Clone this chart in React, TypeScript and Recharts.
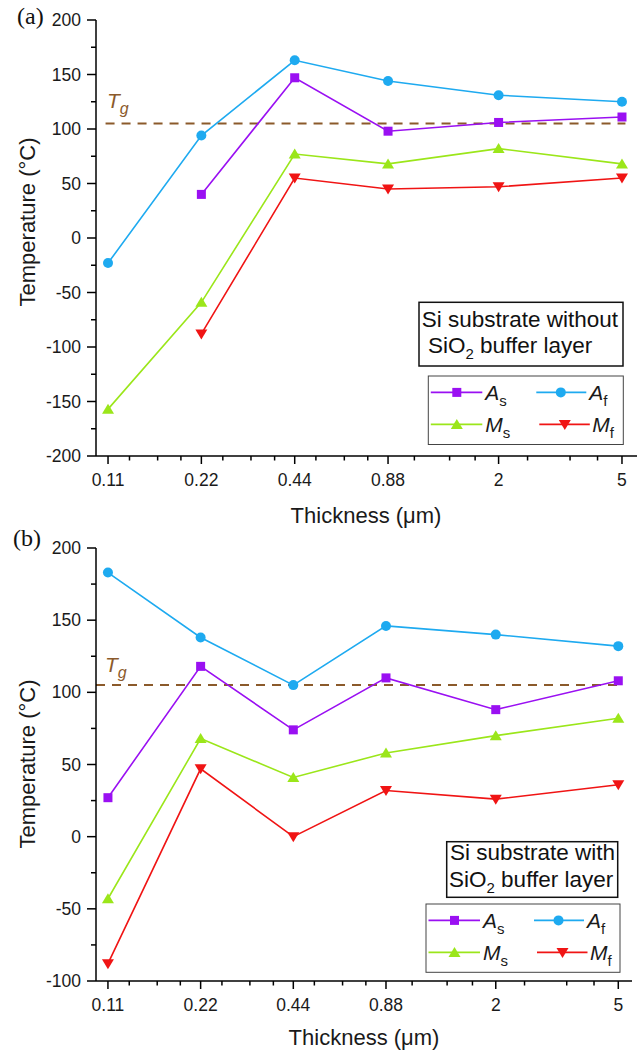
import React from 'react';
import { LineChart, Line, XAxis, YAxis, ReferenceLine } from 'recharts';

// thickness (um), log axis
const thickness = [0.11, 0.22, 0.44, 0.88, 2, 5];
const xMinorTicks = [
  0.129, 0.159, 0.189, 0.258, 0.318, 0.379, 0.515, 0.636, 0.757,
  1.07, 1.39, 1.68, 2.48, 3.4, 4.17,
];
const yTicksA = [-200, -175, -150, -125, -100, -75, -50, -25, 0, 25, 50, 75, 100, 125, 150, 175, 200];
const yTicksB = [-100, -75, -50, -25, 0, 25, 50, 75, 100, 125, 150, 175, 200];
const tg = 105;

// (a) Si substrate without SiO2 buffer layer
const asA = [null, 40, 147, 98, 106, 111];
const afA = [-23, 94, 163, 144, 131, 125];
const msA = [-157, -59, 77, 68, 82, 68];
const mfA = [null, -88, 55, 45, 47, 55];

// (b) Si substrate with SiO2 buffer layer
const asB = [27, 118, 74, 110, 88, 108];
const afB = [183, 138, 105, 146, 140, 132];
const msB = [-43, 68, 41, 58, 70, 82];
const mfB = [-88, 47, 0, 32, 26, 36];

const rowsA = thickness.map((t, i) => ({ t, as: asA[i], af: afA[i], ms: msA[i], mf: mfA[i] }));
const rowsB = thickness.map((t, i) => ({ t, as: asB[i], af: afB[i], ms: msB[i], mf: mfB[i] }));

const COLORS = { as: '#9a10f2', af: '#1eaaf0', ms: '#9be61a', mf: '#f01414' };
const TG_COLOR = '#8b5a2b';
const SANS = '"Liberation Sans", Arial, sans-serif';
const SERIF = '"Liberation Serif", "Times New Roman", serif';

function Marker({ shape, cx, cy, color }: any) {
  if (shape === 'square') return <rect x={cx - 4.5} y={cy - 4.5} width={9} height={9} fill={color} />;
  if (shape === 'circle') return <circle cx={cx} cy={cy} r={5} fill={color} />;
  if (shape === 'up')
    return <polygon points={`${cx},${cy - 5.5} ${cx - 6},${cy + 4.5} ${cx + 6},${cy + 4.5}`} fill={color} />;
  return <polygon points={`${cx},${cy + 5.5} ${cx - 6},${cy - 4.5} ${cx + 6},${cy - 4.5}`} fill={color} />;
}

function makeDot(shape: string, color: string) {
  return (props: any) => {
    const { cx, cy, value, index } = props;
    if (value == null || cx == null || cy == null) return <g key={`n${index}`} />;
    return (
      <g key={`d${index}`}>
        <Marker shape={shape} cx={cx} cy={cy} color={color} />
      </g>
    );
  };
}

function XTick({ x, y, payload }: any) {
  const major = thickness.includes(payload.value);
  return (
    <g>
      <line x1={x} x2={x} y1={y} y2={y + (major ? 8 : 4.5)} stroke="#000" strokeWidth={1.5} />
      {major && (
        <text x={x} y={y + 30} textAnchor="middle" fontSize={17.5} fontFamily={SANS} fill="#1a1a1a">
          {payload.value}
        </text>
      )}
    </g>
  );
}

function YTick({ x, y, payload }: any) {
  const major = payload.value % 50 === 0;
  return (
    <g>
      <line x1={x - (major ? 9 : 5)} x2={x} y1={y} y2={y} stroke="#000" strokeWidth={1.5} />
      {major && (
        <text x={x - 15} y={y + 6} textAnchor="end" fontSize={17.5} fontFamily={SANS} fill="#1a1a1a">
          {payload.value}
        </text>
      )}
    </g>
  );
}

function Panel({ data, yDomain, yTicks, xMax, height, margin, xHeight, tgFrom }: any) {
  return (
    <LineChart width={638} height={height} data={data} margin={margin}>
      <XAxis
        dataKey="t"
        type="number"
        scale="log"
        domain={[0.1006, xMax]}
        allowDataOverflow
        ticks={[...thickness, ...xMinorTicks]}
        interval={0}
        height={xHeight}
        tickSize={0}
        tickMargin={0}
        tickLine={false}
        tick={<XTick />}
        axisLine={{ stroke: '#000', strokeWidth: 1.5 }}
      />
      <YAxis
        type="number"
        domain={yDomain}
        ticks={yTicks}
        interval={0}
        width={96}
        tickSize={0}
        tickMargin={0}
        tickLine={false}
        tick={<YTick />}
        axisLine={{ stroke: '#000', strokeWidth: 1.5 }}
      />
      <ReferenceLine
        segment={[{ x: tgFrom, y: tg }, { x: 5.13, y: tg }]}
        stroke={TG_COLOR}
        strokeWidth={2}
        strokeDasharray="9 7"
      />
      <Line dataKey="af" stroke={COLORS.af} strokeWidth={1.6} dot={makeDot('circle', COLORS.af)} isAnimationActive={false} />
      <Line dataKey="as" stroke={COLORS.as} strokeWidth={1.6} dot={makeDot('square', COLORS.as)} isAnimationActive={false} />
      <Line dataKey="ms" stroke={COLORS.ms} strokeWidth={1.6} dot={makeDot('up', COLORS.ms)} isAnimationActive={false} />
      <Line dataKey="mf" stroke={COLORS.mf} strokeWidth={1.6} dot={makeDot('down', COLORS.mf)} isAnimationActive={false} />
    </LineChart>
  );
}

const legendItems = [
  { key: 'as', shape: 'square', letter: 'A', sub: 's', l1: 2.5, l2: 54, m: 28.5, tx: 57, row: 0 },
  { key: 'af', shape: 'circle', letter: 'A', sub: 'f', l1: 108, l2: 158, m: 132.5, tx: 161, row: 0 },
  { key: 'ms', shape: 'up', letter: 'M', sub: 's', l1: 2.5, l2: 54, m: 28.5, tx: 57, row: 1 },
  { key: 'mf', shape: 'down', letter: 'M', sub: 'f', l1: 111, l2: 161.5, m: 136.5, tx: 164, row: 1 },
];

function LegendBox({ x, y, w, h }: any) {
  return (
    <g>
      <rect x={x} y={y} width={w} height={h} fill="#fff" stroke="#444" strokeWidth={1} />
      {legendItems.map((it) => {
        const ry = y + 16.4 + it.row * 32;
        const color = (COLORS as any)[it.key];
        return (
          <g key={it.key}>
            <line x1={x + it.l1} x2={x + it.l2} y1={ry} y2={ry} stroke={color} strokeWidth={1.6} />
            <Marker shape={it.shape} cx={x + it.m} cy={ry} color={color} />
            <text x={x + it.tx} y={ry + 7.5} fontFamily={SANS} fontSize={21} fill="#1a1a1a">
              <tspan fontStyle="italic">{it.letter}</tspan>
              <tspan fontSize={15} dy={6}>{it.sub}</tspan>
            </text>
          </g>
        );
      })}
    </g>
  );
}

function NoteBox({ x, y, w, h, line1, x1, b1, x2, b2 }: any) {
  return (
    <g fontFamily={SANS} fontSize={22.5} fill="#111">
      <rect x={x} y={y} width={w} height={h} fill="#fff" stroke="#111" strokeWidth={1.5} />
      <text x={x1} y={b1}>{line1}</text>
      <text x={x2} y={b2}>
        SiO<tspan fontSize={15} dy={6}>2</tspan>
        <tspan dy={-6}> buffer layer</tspan>
      </text>
    </g>
  );
}

function TgLabel({ x, y }: any) {
  return (
    <text x={x} y={y} fontFamily={SANS} fill={TG_COLOR} fontStyle="italic" fontSize={21}>
      T<tspan fontSize={16} dy={6}>g</tspan>
    </text>
  );
}

export default function App() {
  return (
    <div style={{ position: 'absolute', left: 0, top: 0, width: 638, height: 1050, background: '#fff' }}>
      <div style={{ position: 'absolute', left: 0, top: 0 }}>
        <Panel
          data={rowsA}
          yDomain={[-200, 200]}
          yTicks={yTicksA}
          xMax={5.59}
          height={520}
          margin={{ top: 20, right: 1, bottom: 0, left: 0 }}
          xHeight={64}
          tgFrom={0.108}
        />
      </div>
      <div style={{ position: 'absolute', left: 0, top: 520 }}>
        <Panel
          data={rowsB}
          yDomain={[-100, 200]}
          yTicks={yTicksB}
          xMax={5.54}
          height={530}
          margin={{ top: 28, right: 6, bottom: 0, left: 0 }}
          xHeight={69}
          tgFrom={0.1006}
        />
      </div>
      <svg width={638} height={1050} style={{ position: 'absolute', left: 0, top: 0, pointerEvents: 'none' }}>
        <text x={17} y={24} fontFamily={SERIF} fontSize={24} fill="#111">(a)</text>
        <text x={13} y={546} fontFamily={SERIF} fontSize={24} fill="#111">(b)</text>

        <text x={35} y={222} transform="rotate(-90 35 222)" textAnchor="middle" fontFamily={SANS} fontSize={22} fill="#1a1a1a">
          Temperature (°C)
        </text>
        <text x={35} y={764} transform="rotate(-90 35 764)" textAnchor="middle" fontFamily={SANS} fontSize={22} fill="#1a1a1a">
          Temperature (°C)
        </text>
        <text x={366} y={523} textAnchor="middle" fontFamily={SANS} fontSize={22} fill="#1a1a1a">
          Thickness (μm)
        </text>
        <text x={364} y={1045} textAnchor="middle" fontFamily={SANS} fontSize={22} fill="#1a1a1a">
          Thickness (μm)
        </text>

        <TgLabel x={107} y={108} />
        <TgLabel x={105} y={672} />

        <NoteBox x={419} y={302.3} w={204} h={63.7} line1="Si substrate without" x1={421.7} b1={326.7} x2={428} b2={353} />
        <NoteBox x={446.7} y={841.7} w={171} h={55.6} line1="Si substrate with" x1={450} b1={860} x2={449} b2={886.7} />

        <LegendBox x={428.3} y={376} w={195} h={68.5} />
        <LegendBox x={426} y={904} w={194} h={68.3} />
      </svg>
    </div>
  );
}
